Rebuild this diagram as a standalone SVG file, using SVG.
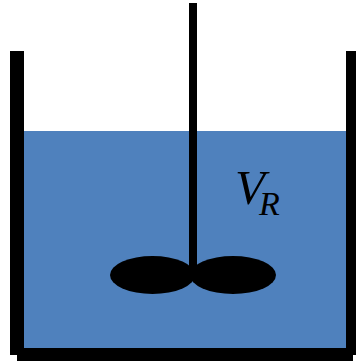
<svg xmlns="http://www.w3.org/2000/svg" width="356" height="361" viewBox="0 0 356 361">
<style>.k{fill:#000}.t{font-family:"Liberation Serif","Times New Roman",serif;font-style:italic;fill:#000}</style>
<rect width="356" height="361" fill="#fff"/>
<rect id="liquid" x="24" y="131" width="322" height="217" fill="#4f81bd"/>
<g id="vessel">
<rect class="k" x="10" y="51" width="14" height="304"/>
<rect class="k" x="346" y="51" width="10" height="304"/>
<rect class="k" x="17" y="348" width="336" height="13"/>
</g>
<g id="stirrer">
<rect class="k" x="189" y="3" width="8" height="270"/>
<ellipse class="k" cx="152.5" cy="275" rx="42.5" ry="19"/>
<ellipse class="k" cx="233" cy="275" rx="43" ry="19"/>
</g>
<g id="label">
<text class="t" font-size="49"><tspan x="235" y="204">V</tspan><tspan x="259" y="215" font-size="34">R</tspan></text>
</g>
</svg>
